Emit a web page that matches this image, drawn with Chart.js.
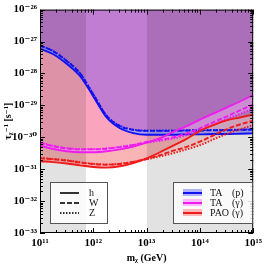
<!DOCTYPE html>
<html><head><meta charset="utf-8">
<script src="https://cdn.jsdelivr.net/npm/chart.js@4.4.1/dist/chart.umd.min.js"></script>
<style>html,body{margin:0;padding:0;background:#fff}#wrap{width:266px;height:266px}</style>
</head><body><div id="wrap"><canvas id="c" width="266" height="266"></canvas></div>
<script>
// ---- data (m_chi in GeV, rate in s^-1) ----
const masses = [1e11, 1.78e11, 3.16e11, 5.62e11, 1e12, 1.78e12, 3.16e12, 5.62e12, 1e13, 1.78e13, 3.16e13, 5.62e13, 1e14, 1.78e14, 3.16e14, 5.62e14, 1e15];
const taP_h = [6.03e-28, 3.98e-28, 2.00e-28, 8.32e-29, 1.91e-29, 4.17e-30, 1.91e-30, 1.35e-30, 1.20e-30, 1.20e-30, 1.20e-30, 1.23e-30, 1.23e-30, 1.26e-30, 1.26e-30, 1.29e-30, 1.32e-30];
const taP_W = [7.41e-28, 4.90e-28, 2.45e-28, 1.00e-28, 2.19e-29, 4.68e-30, 2.24e-30, 1.70e-30, 1.58e-30, 1.58e-30, 1.58e-30, 1.62e-30, 1.62e-30, 1.66e-30, 1.66e-30, 1.70e-30, 1.74e-30];
const taP_Z = [7.59e-28, 5.01e-28, 2.51e-28, 1.02e-28, 2.24e-29, 4.79e-30, 2.29e-30, 1.74e-30, 1.62e-30, 1.62e-30, 1.62e-30, 1.66e-30, 1.66e-30, 1.70e-30, 1.70e-30, 1.74e-30, 1.78e-30];
const taG_h = [5.50e-31, 4.27e-31, 3.63e-31, 3.39e-31, 3.39e-31, 3.63e-31, 4.17e-31, 5.13e-31, 6.76e-31, 9.33e-31, 1.48e-30, 2.24e-30, 3.55e-30, 5.50e-30, 8.51e-30, 1.32e-29, 2.09e-29];
const taG_W = [6.76e-31, 5.25e-31, 4.47e-31, 4.17e-31, 4.17e-31, 4.37e-31, 4.90e-31, 5.75e-31, 7.08e-31, 8.32e-31, 1.00e-30, 1.32e-30, 1.91e-30, 2.95e-30, 4.47e-30, 6.92e-30, 1.05e-29];
const taG_Z = [6.92e-31, 5.37e-31, 4.57e-31, 4.27e-31, 4.27e-31, 4.47e-31, 5.01e-31, 5.75e-31, 6.76e-31, 7.76e-31, 9.12e-31, 1.17e-30, 1.62e-30, 2.45e-30, 3.72e-30, 5.37e-30, 7.94e-30];
const pao_h = [1.78e-31, 1.66e-31, 1.51e-31, 1.32e-31, 1.17e-31, 1.12e-31, 1.23e-31, 1.55e-31, 2.19e-31, 3.39e-31, 5.50e-31, 8.91e-31, 1.58e-30, 2.40e-30, 3.39e-30, 4.17e-30, 5.13e-30];
const pao_W = [2.19e-31, 2.04e-31, 1.86e-31, 1.62e-31, 1.45e-31, 1.38e-31, 1.45e-31, 1.70e-31, 2.09e-31, 2.75e-31, 3.80e-31, 5.01e-31, 7.24e-31, 1.15e-30, 1.78e-30, 2.51e-30, 3.31e-30];
const pao_Z = [2.24e-31, 2.09e-31, 1.91e-31, 1.66e-31, 1.48e-31, 1.41e-31, 1.48e-31, 1.70e-31, 2.04e-31, 2.51e-31, 3.16e-31, 4.17e-31, 5.62e-31, 8.51e-31, 1.26e-30, 1.78e-30, 2.40e-30];
const grayBands = [[1e11, 7.3e11], [1e13, 1e15]];
const xTicks = [1e11, 1e12, 1e13, 1e14, 1e15];
const xTickLabels = ['10¹¹', '10¹²', '10¹³', '10¹⁴', '10¹⁵'];
const yTicks = [1e-33, 1e-32, 1e-31, 1e-30, 1e-29, 1e-28, 1e-27, 1e-26];
const yTickLabels = ['10⁻³³', '10⁻³²', '10⁻³¹', '10⁻³⁰', '10⁻²⁹', '10⁻²⁸', '10⁻²⁷', '10⁻²⁶'];
const minorMult = [2, 3, 4, 5, 6, 7, 8, 9];
const modelNames = ['h', 'W', 'Z'];
const expNames = [['TA', '(p)'], ['TA', '(γ)'], ['PAO', '(γ)']];

// ---- styles ----
const C = {blue: '#1212f0', mag: '#ee1cee', red: '#ee1c1c'};
const SERIF = "'Liberation Serif','DejaVu Serif',serif";
const pts = arr => masses.map((m, i) => ({x: m, y: arr[i]}));
const base = {pointRadius: 0, cubicInterpolationMode: 'monotone'};
function region(arr, color, order) { return {...base, data: pts(arr), fill: 'end', backgroundColor: color, borderWidth: 0, order}; }
function band(arr, target, color, order) { return {...base, data: pts(arr), fill: {target}, backgroundColor: color, borderWidth: 0, order}; }
function line(arr, color, dash, order) { return {...base, data: pts(arr), fill: false, borderColor: color, borderWidth: 1.9, borderDash: dash, order}; }
const grayDs = grayBands.map(b => ({...base, data: [{x: b[0], y: yTicks[yTicks.length - 1]}, {x: b[1], y: yTicks[yTicks.length - 1]}], fill: 'start', backgroundColor: 'rgba(0,0,0,0.115)', borderWidth: 0, order: 14}));

const datasets = [
  region(pao_h, 'rgba(240,60,60,0.38)', 20),
  region(taG_h, 'rgba(255,100,220,0.2)', 19),
  region(taP_h, 'rgba(130,80,235,0.47)', 18),
  band(pao_Z, 0, 'rgba(255,190,190,0.6)', 17),
  band(taG_Z, 1, 'rgba(255,175,255,0.6)', 16),
  band(taP_Z, 2, 'rgba(165,170,255,0.75)', 15),
  ...grayDs,
  line(taP_h, C.blue, [], 8), line(taP_W, C.blue, [5, 2], 7), line(taP_Z, C.blue, [1.5, 1.5], 6),
  line(taG_h, C.mag, [], 5), line(taG_W, C.mag, [5, 2], 4), line(taG_Z, C.mag, [1.5, 1.5], 3),
  line(pao_h, C.red, [], 2), line(pao_W, C.red, [5, 2], 1), line(pao_Z, C.red, [1.5, 1.5], 0)
];

const decor = {
  id: 'decor',
  afterDatasetsDraw(chart) {
    const {ctx, chartArea: a, scales: {x, y}} = chart;
    ctx.save();
    ctx.strokeStyle = '#000'; ctx.lineWidth = 1;
    ctx.beginPath();
    xTicks.forEach((t, i) => {
      [1, ...minorMult].forEach(k => {
        const v = t * k; if (v > xTicks[xTicks.length - 1]) return;
        const px = Math.round(x.getPixelForValue(v)) + 0.5, L = k === 1 ? 5 : 3;
        ctx.moveTo(px, a.bottom); ctx.lineTo(px, a.bottom - L);
        ctx.moveTo(px, a.top); ctx.lineTo(px, a.top + L);
      });
    });
    yTicks.forEach(t => {
      [1, ...minorMult].forEach(k => {
        const v = t * k; if (v > yTicks[yTicks.length - 1]) return;
        const py = Math.round(y.getPixelForValue(v)) + 0.5, L = k === 1 ? 5 : 3;
        ctx.moveTo(a.left, py); ctx.lineTo(a.left + L, py);
        ctx.moveTo(a.right, py); ctx.lineTo(a.right - L, py);
      });
    });
    ctx.stroke();
    ctx.strokeRect(a.left + 0.5, a.top + 0.5, a.width - 1, a.height - 1);

    // legend boxes
    const boxTop = a.bottom - 51, boxH = 41;
    const L1 = a.left + 10, W1 = 57;
    const L2 = a.left + 133, W2 = 79;
    ctx.fillStyle = 'rgba(255,255,255,0.82)';
    ctx.strokeStyle = '#555'; ctx.lineWidth = 1;
    [[L1, W1], [L2, W2]].forEach(([l, w]) => { ctx.fillRect(l, boxTop, w, boxH); ctx.strokeRect(l + 0.5, boxTop + 0.5, w, boxH); });
    ctx.font = '10px ' + SERIF; ctx.textBaseline = 'middle'; ctx.fillStyle = '#111';
    const dashes = [[], [5, 2], [1.5, 1.5]];
    modelNames.forEach((n, i) => {
      const yy = boxTop + 11 + i * 10;
      ctx.save(); ctx.strokeStyle = '#333'; ctx.lineWidth = 2; ctx.setLineDash(dashes[i]);
      ctx.beginPath(); ctx.moveTo(L1 + 10, yy); ctx.lineTo(L1 + 29, yy); ctx.stroke(); ctx.restore();
      ctx.fillText(n, L1 + 39, yy);
    });
    const patch = ['rgba(165,170,255,0.9)', 'rgba(255,175,255,0.9)', 'rgba(255,180,180,0.95)'];
    const lc = [C.blue, C.mag, C.red];
    expNames.forEach((e, i) => {
      const yy = boxTop + 11 + i * 10;
      ctx.fillStyle = patch[i]; ctx.fillRect(L2 + 10, yy - 4, 19, 7);
      ctx.save(); ctx.strokeStyle = lc[i]; ctx.lineWidth = 2;
      ctx.beginPath(); ctx.moveTo(L2 + 10, yy); ctx.lineTo(L2 + 29, yy); ctx.stroke(); ctx.restore();
      ctx.fillStyle = '#111';
      ctx.font = '10px ' + SERIF;
      ctx.fillText(e[0], L2 + 37, yy);
      ctx.fillText(e[1], L2 + 59, yy);
    });
    ctx.restore();
  }
};

new Chart(document.getElementById('c'), {
  type: 'line',
  data: {datasets},
  plugins: [decor],
  options: {
    responsive: false, animation: false, devicePixelRatio: 1,
    layout: {padding: {left: 0, right: 4, top: 3, bottom: 0}},
    plugins: {legend: {display: false}, tooltip: {enabled: false}, filler: {drawTime: 'beforeDatasetsDraw', propagate: false}},
    scales: {
      x: {
        type: 'logarithmic', min: xTicks[0], max: xTicks[xTicks.length - 1],
        afterBuildTicks: s => { s.ticks = xTicks.map(v => ({value: v})); },
        afterFit: s => { s.height = 33; },
        grid: {display: false, drawTicks: false}, border: {display: false},
        ticks: {autoSkip: false, maxRotation: 0, padding: 4, color: '#000',
          font: {family: SERIF, size: 11, weight: 'bold'},
          callback: (v, i) => xTickLabels[xTicks.indexOf(v)] ?? ''},
        title: {display: true, text: 'mᵪ (GeV)', color: '#000', font: {family: SERIF, size: 10, weight: 'bold'}, padding: {top: 0, bottom: 2}}
      },
      y: {
        type: 'logarithmic', min: yTicks[0], max: yTicks[yTicks.length - 1],
        afterBuildTicks: s => { s.ticks = yTicks.map(v => ({value: v})); },
        afterFit: s => { s.width = 40; },
        grid: {display: false, drawTicks: false}, border: {display: false},
        ticks: {autoSkip: false, padding: 3, color: '#000',
          font: {family: SERIF, size: 11, weight: 'bold'},
          callback: (v, i) => yTickLabels[yTicks.indexOf(v)] ?? ''},
        title: {display: true, text: 'τᵪ⁻¹ [s⁻¹]', color: '#000', font: {family: SERIF, size: 10, weight: 'bold'}, padding: {top: 2, bottom: 0}}
      }
    }
  }
});
</script></body></html>
